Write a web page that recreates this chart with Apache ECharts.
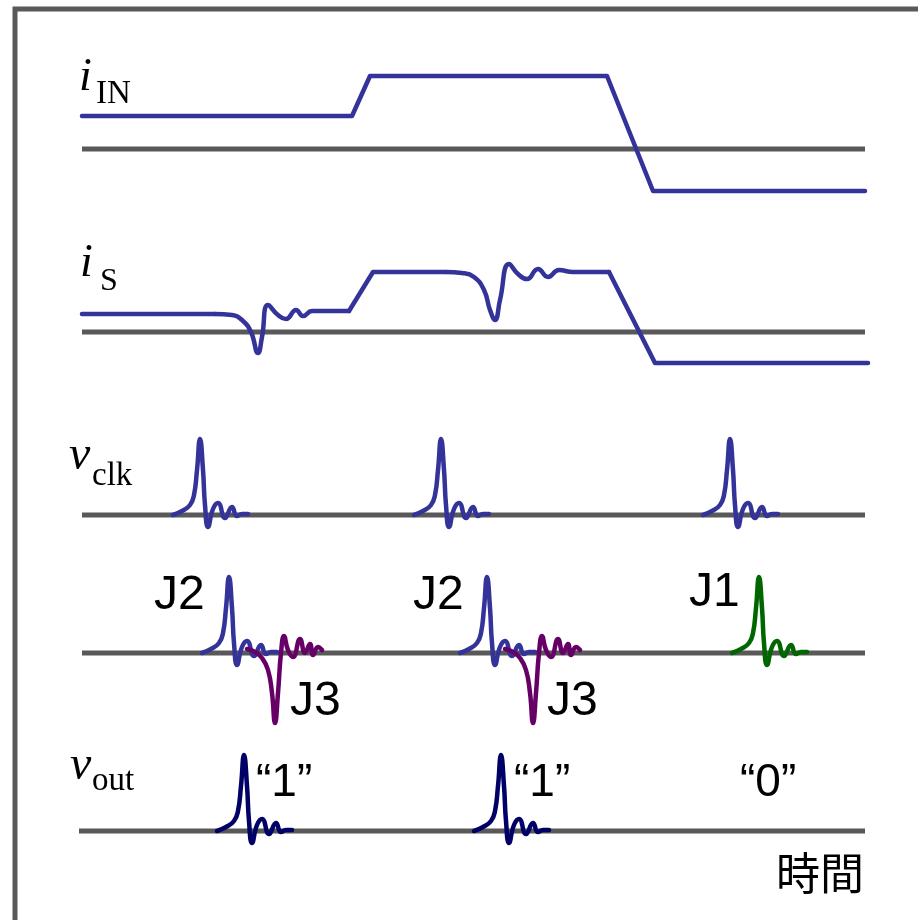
<!DOCTYPE html>
<html>
<head>
<meta charset="utf-8">
<script src="https://cdn.jsdelivr.net/npm/echarts@6/dist/echarts.min.js"></script>
<style>
  html, body { margin: 0; padding: 0; background: #fff; }
  #chart { width: 918px; height: 920px; }
</style>
</head>
<body>
<div id="chart"></div>
<script>
// timing diagram: time on x, each row its own signal around a zero line

// row zero lines (time extent)
var zeroLineT = [82, 865];
var zeroLineOutT = [79, 865];

// i_IN (time, level)
var iIN = [[82, 33], [352, 33], [370, 73], [607, 73], [653, -42], [865, -42]];

// i_S pieces: straight parts and ringing parts (time, level)
var iSFlat1 = [[82, 18], [215, 18]];
var iSRing1 = [[215, 18], [232, 17], [243, 11], [251, 0], [258, -21], [262, -5], [268, 27],
  [278, 17], [286, 13], [296, 22], [303, 16], [312, 21], [330, 21], [349, 21]];
var iSRamp1 = [[349, 21], [373, 60], [446, 60]];
var iSRing2 = [[446, 60], [462, 59], [474, 55], [484, 42], [490, 22], [495, 12], [500, 32],
  [509, 68], [518, 58], [527, 53], [538, 63], [548, 55], [559, 62], [573, 60], [590, 60], [609, 60]];
var iSRamp2 = [[609, 60], [655, -31], [868, -31]];

// one SFQ pulse (time from peak, level)
var pulseShape = [[-27, 0], [-18, 4], [-10, 10], [-6, 20], [-3, 45], [0, 76], [3, 45],
  [5, 10], [8, -12], [13, 6], [18, 12], [25, -3], [32, 8], [37, -1], [42, 1], [48, 1]];

// J3 negative pulse (time from minimum, level)
var negPulseShape = [[-28, 4], [-20, 1], [-13, -5], [-7, -17], [-3, -40], [0, -70], [3, -40],
  [6, 0], [9, 17], [13, 3], [18, -4], [25, 14], [30, 0], [35, 9], [38, -2], [43, 6], [47, 3]];

var clkTimes = [200, 441, 730];
var j2Times = [229, 487];
var j3Times = [275, 533];
var j1Times = [759];
var outTimes = [244, 501];

var outLabels = ['\u201c1\u201d', '\u201c1\u201d', '\u201c0\u201d'];

var blue = '#333399';
var navy = '#000066';
var purple = '#660066';
var green = '#006600';
var gray = '#595959';

// row layout (zero line pixel y)
var rowY = [149, 332, 515, 653, 831];

var grids = [], xAxes = [], yAxes = [], series = [];
rowY.forEach(function (y, i) {
  var lo = i == 4 ? -80 : -100;
  grids.push({ left: 0, right: 0, top: y - 100, height: 100 - lo, containLabel: false });
  xAxes.push({ gridIndex: i, type: 'value', min: 0, max: 918, show: false });
  yAxes.push({ gridIndex: i, type: 'value', min: lo, max: 100, show: false });
});

function lineSeries(row, data, color, width, smooth, z, cap) {
  return {
    type: 'line', xAxisIndex: row, yAxisIndex: row, data: data,
    symbol: 'none', smooth: smooth, z: z, clip: false,
    lineStyle: { color: color, width: width, cap: cap || 'round', join: 'round' },
    animation: false, silent: true
  };
}

function shift(shape, t0) {
  return shape.map(function (p) { return [t0 + p[0], p[1]]; });
}

// zero lines
rowY.forEach(function (y, i) {
  var ext = i == 4 ? zeroLineOutT : zeroLineT;
  series.push(lineSeries(i, [[ext[0], 0], [ext[1], 0]], gray, 5, false, 1, 'butt'));
});

series.push(lineSeries(0, iIN, blue, 4.5, false, 3));
[iSFlat1, iSRamp1, iSRamp2].forEach(function (d) { series.push(lineSeries(1, d, blue, 4.5, false, 3)); });
[iSRing1, iSRing2].forEach(function (d) { series.push(lineSeries(1, d, blue, 4.5, 0.5, 3)); });
clkTimes.forEach(function (t) { series.push(lineSeries(2, shift(pulseShape, t), blue, 4.5, 0.5, 3)); });
j2Times.forEach(function (t) { series.push(lineSeries(3, shift(pulseShape, t), blue, 4.5, 0.5, 3)); });
j3Times.forEach(function (t) { series.push(lineSeries(3, shift(negPulseShape, t), purple, 4.5, 0.5, 4)); });
j1Times.forEach(function (t) { series.push(lineSeries(3, shift(pulseShape, t), green, 4.5, 0.5, 3)); });
outTimes.forEach(function (t) { series.push(lineSeries(4, shift(pulseShape, t), navy, 4.5, 0.5, 3)); });

var serif = '"Liberation Serif", "DejaVu Serif", serif';
var sans = '"Liberation Sans", Arial, sans-serif';

function txt(text, x, y, size, family, italic) {
  return {
    type: 'text', x: x, y: y, z: 10,
    style: {
      text: text, fontSize: size, fontFamily: family, fontStyle: italic ? 'italic' : 'normal',
      fill: '#000', align: 'left', verticalAlign: 'middle'
    }
  };
}

var graphics = [
  { type: 'rect', shape: { x: 15, y: 9, width: 1000, height: 1000 }, z: 0,
    style: { fill: 'none', stroke: gray, lineWidth: 5 } },
  txt('i', 79, 78, 46, serif, true), txt('IN', 96, 94, 33, serif, false),
  txt('i', 80, 264, 46, serif, true), txt('S', 100, 282, 32, serif, false),
  txt('v', 69, 456, 48, serif, true), txt('clk', 92, 476, 33, serif, false),
  txt('v', 70, 766, 48, serif, true), txt('out', 92, 781, 33, serif, false),
  txt('J2', 154, 596, 48, sans), txt('J2', 413, 596, 48, sans),
  txt('J3', 290, 702, 48, sans), txt('J3', 547, 702, 48, sans),
  txt('J1', 689, 593, 48, sans),
  txt(outLabels[0], 256, 783, 46, sans), txt(outLabels[1], 514, 783, 46, sans),
  txt(outLabels[2], 740, 783, 46, sans),
  txt('時間', 776, 873, 44, '"Noto Sans CJK JP", sans-serif')
];

var chart = echarts.init(document.getElementById('chart'));
chart.setOption({
  animation: false,
  backgroundColor: '#fff',
  grid: grids,
  xAxis: xAxes,
  yAxis: yAxes,
  series: series,
  graphic: graphics
});
</script>
</body>
</html>
